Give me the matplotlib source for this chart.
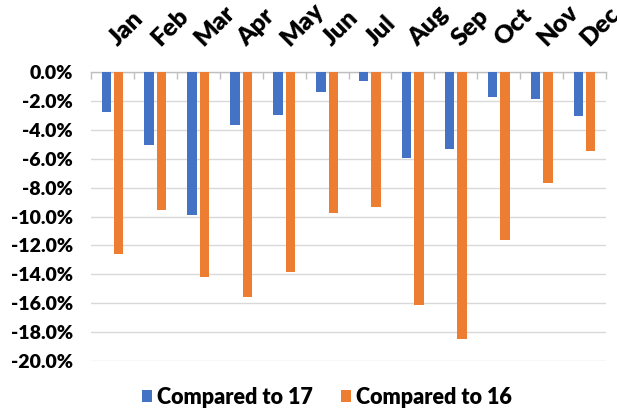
import matplotlib
matplotlib.use("Agg")
import matplotlib.pyplot as plt
import numpy as np
from matplotlib.ticker import FuncFormatter, FixedLocator
from matplotlib.transforms import ScaledTranslation

plt.rcParams['font.family'] = ['Lato', 'DejaVu Sans']
W = 'heavy'

months = ["Jan", "Feb", "Mar", "Apr", "May", "Jun",
          "Jul", "Aug", "Sep", "Oct", "Nov", "Dec"]
vs_17 = [-2.8, -5.05, -9.9, -3.65, -3.0, -1.4, -0.6, -5.95, -5.3, -1.75, -1.9, -3.05]
vs_16 = [-12.6, -9.55, -14.2, -15.6, -13.85, -9.75, -9.35, -16.1, -18.5, -11.6, -7.7, -5.5]
series_names = ["Compared to 17", "Compared to 16"]
yticks = [0, -2, -4, -6, -8, -10, -12, -14, -16, -18, -20]

blue = "#4472C4"
orange = "#ED7D31"
grid_c = "#D9D9D9"

fig = plt.figure(figsize=(6.17, 4.09), dpi=100)
ax = fig.add_axes([91 / 617, 1 - 361 / 409, (606 - 91) / 617, (361 - 72) / 409])

x = np.arange(len(months))
w = 0.22
off = 0.145
b1 = ax.bar(x - off, vs_17, width=w, color=blue, label=series_names[0], zorder=3)
b2 = ax.bar(x + off, vs_16, width=w, color=orange, label=series_names[1], zorder=3)

ax.set_xlim(-0.5, len(months) - 0.5)
ax.set_ylim(-20, 0)

# y axis: percent labels, horizontal gridlines
ax.set_yticks(yticks)
ax.yaxis.set_major_formatter(FuncFormatter(lambda v, p: f"{v:.1f}%"))
ax.tick_params(axis='y', length=0, pad=13, labelsize=14)
for t in ax.get_yticklabels():
    t.set_fontweight(W)
ax.grid(axis='y', color=grid_c, linewidth=1, zorder=0)

# x axis on top with rotated month labels
ax.xaxis.tick_top()
ax.set_xticks(x)
ax.set_xticklabels(months, rotation=45, ha='left', va='baseline',
                   rotation_mode='anchor', fontsize=18, fontweight=W)
ax.tick_params(axis='x', which='major', length=0, pad=18)
ax.xaxis.set_minor_locator(FixedLocator(np.arange(-0.5, len(months), 1.0)))
ax.tick_params(axis='x', which='minor', direction='in', length=5,
               color="#BFBFBF", width=1, top=True, bottom=False)
shift = ScaledTranslation(5 / 100, 0, fig.dpi_scale_trans)
for lab in ax.get_xticklabels():
    lab.set_transform(lab.get_transform() + shift)

for s in ["left", "right", "bottom"]:
    ax.spines[s].set_visible(False)
ax.spines["top"].set_color("#BFBFBF")
ax.spines["top"].set_linewidth(1)

leg = fig.legend(handles=[b1, b2], loc='center',
                 bbox_to_anchor=(327 / 617, 1 - 397 / 409), ncol=2,
                 frameon=False, fontsize=15.5, handlelength=0.45,
                 handleheight=0.45, handletextpad=0.25, columnspacing=1.3)
for t in leg.get_texts():
    t.set_fontweight(W)

fig.savefig("out.png", dpi=100)
